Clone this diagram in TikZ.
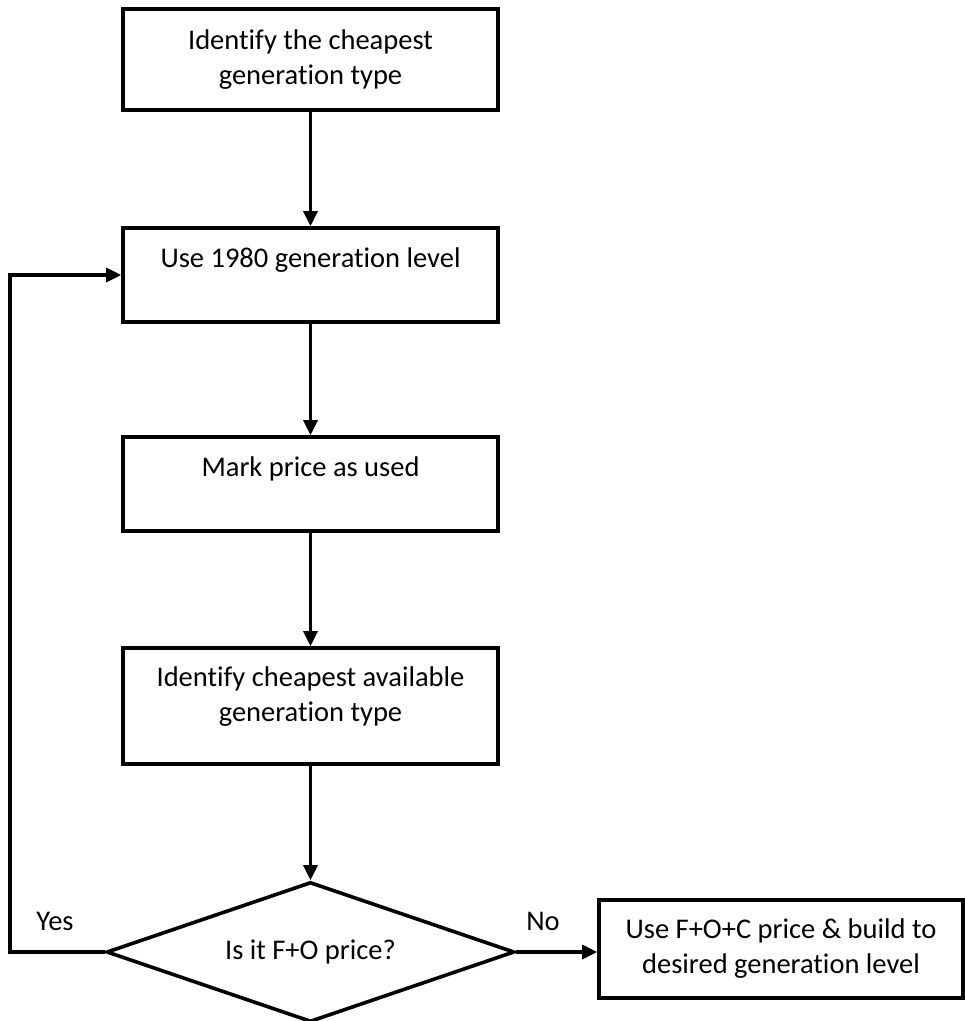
\documentclass[tikz,border=0pt]{standalone}
\usepackage{fontspec}
\setmainfont{Carlito}[Ligatures=NoCommon]
\usetikzlibrary{shapes.geometric,arrows.meta}
\tikzset{
  boxnode/.style={draw=black, line width=3.6pt, rectangle, minimum width=375pt, inner sep=0pt, align=center, font=\fontsize{28.5}{35}\selectfont},
  decision/.style={draw=black, line width=3.6pt, diamond, aspect=2.9, minimum width=408pt, minimum height=140pt, inner sep=0pt, align=center, font=\fontsize{28.5}{35}\selectfont},
  flow/.style={line width=3.3pt, -{Triangle[length=15pt,width=14pt]}},
  lbl/.style={font=\fontsize{28.5}{30}\selectfont, inner sep=0pt}
}
\begin{document}
\begin{tikzpicture}[x=1pt,y=-1pt]
\useasboundingbox (0,0) rectangle (965,1021);
\node[boxnode, minimum height=101pt] (b1) at (310.5,59.5) {Identify the cheapest\\generation type};
\node[boxnode, minimum height=94pt] (b2) at (310.5,275) {Use 1980 generation level\\\mbox{}};
\node[boxnode, minimum height=94pt] (b3) at (310.5,484) {Mark price as used\\\mbox{}};
\node[boxnode, minimum height=116pt] (b4) at (310.5,706) {Identify cheapest available\\generation type\\[-12pt]\mbox{}};
\node[decision] (d) at (310.5,952) {Is it F+O price?};
\node[boxnode, minimum width=364pt, minimum height=98pt] (b5) at (781,949) {Use F+O+C price \& build to\\desired generation level};
\coordinate (loop) at (10,952);
\draw[flow] (b1.south) -- (b2.north);
\draw[flow] (b2.south) -- (b3.north);
\draw[flow] (b3.south) -- (b4.north);
\draw[flow] (b4.south) -- (d.north);
\draw[flow] (d.east) -- (d.east -| b5.west);
\draw[flow] (d.west) -- (loop) |- (b2.west);
\node[lbl] (yes) at (55,921) {Yes};
\node[lbl] (no) at (543,921) {No};
\end{tikzpicture}
\end{document}
